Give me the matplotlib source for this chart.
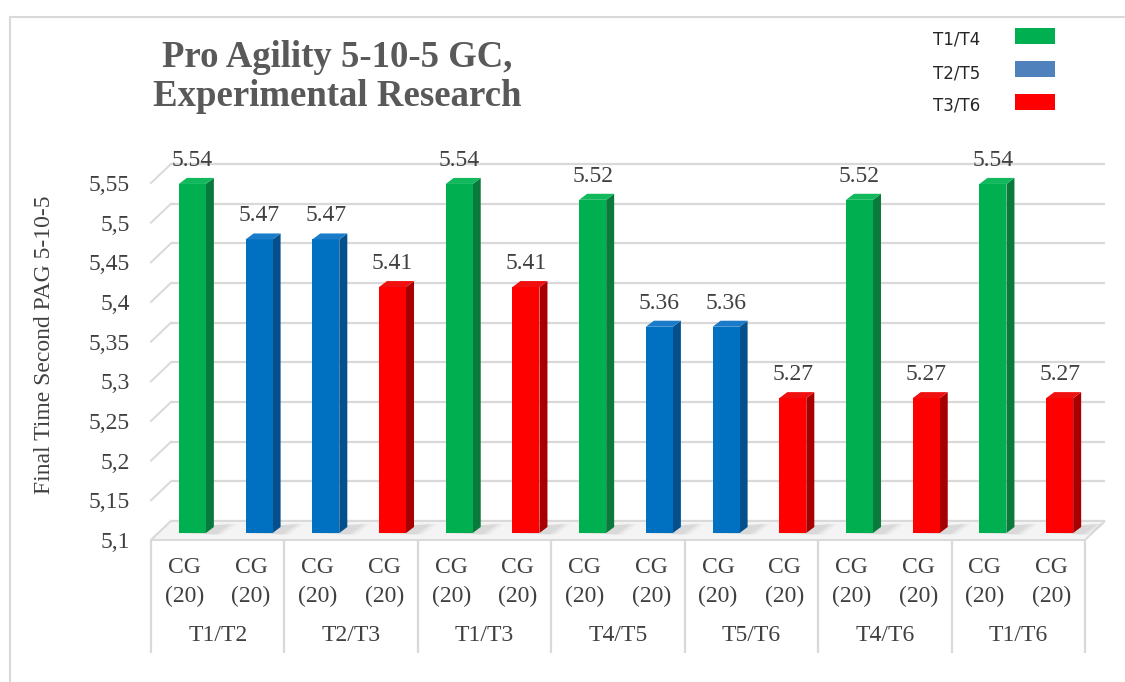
import matplotlib
matplotlib.use("Agg")
import matplotlib.pyplot as plt
import numpy as np
from matplotlib.patches import Polygon, Rectangle
from matplotlib.lines import Line2D
from matplotlib.ticker import FuncFormatter

# ---- data ----
groups = ["T1/T2", "T2/T3", "T1/T3", "T4/T5", "T5/T6", "T4/T6", "T1/T6"]
bar_labels = ["CG\n(20)"] * 14
values = [5.54, 5.47, 5.47, 5.41, 5.54, 5.41, 5.52, 5.36, 5.36, 5.27, 5.52, 5.27, 5.54, 5.27]
series = ["T1/T4", "T2/T5", "T2/T5", "T3/T6", "T1/T4", "T3/T6", "T1/T4", "T2/T5",
          "T2/T5", "T3/T6", "T1/T4", "T3/T6", "T1/T4", "T3/T6"]
legend_labels = ["T1/T4", "T2/T5", "T3/T6"]
y_ticks = [5.1, 5.15, 5.2, 5.25, 5.3, 5.35, 5.4, 5.45, 5.5, 5.55]

# ---- styles ----
front_col = {"T1/T4": "#00B050", "T2/T5": "#0070C0", "T3/T6": "#FF0000"}
side_col = {"T1/T4": "#0A7A3C", "T2/T5": "#03508C", "T3/T6": "#A80000"}
top_col = {"T1/T4": "#12B85C", "T2/T5": "#1A7CC8", "T3/T6": "#F01010"}
legend_col = {"T1/T4": "#00B050", "T2/T5": "#4F81BD", "T3/T6": "#FF0000"}
grid_col = "#D9D9D9"
text_col = "#404040"
serif = ["Liberation Serif", "DejaVu Serif"]
LABEL_SIZE = 17

BASE = 5.1
# depth offsets of the 3D box (x in slot units, y in value units)
WALL_DX, WALL_DY = 0.30, 0.024
BAR_DX, BAR_DY = 0.12, 0.0088
SIDE_DX, SIDE_DY = 0.12, 0.0076
BAR_W = 0.405

W, H = 1125, 682
fig = plt.figure(figsize=(W / 100, H / 100), dpi=100)
ax = fig.add_axes([151 / W, (H - 540) / H, 934 / W, 357 / H])
n = len(values)
ax.set_xlim(0, n)
ax.set_ylim(BASE, 5.55)
for s in ax.spines.values():
    s.set_visible(False)

# back wall gridlines and left-wall stubs
for v in y_ticks:
    ax.plot([WALL_DX, n + WALL_DX], [v + WALL_DY, v + WALL_DY], color=grid_col,
            lw=1.6, clip_on=False, zorder=1, solid_capstyle="butt")
    ax.plot([0, WALL_DX], [v, v + WALL_DY], color=grid_col, lw=1.4,
            clip_on=False, zorder=1)

# floor
floor = Polygon([(0, BASE), (n, BASE), (n + WALL_DX, BASE + WALL_DY), (WALL_DX, BASE + WALL_DY)],
                closed=True, facecolor="#F4F4F4", edgecolor=grid_col, lw=1.4,
                clip_on=False, zorder=2)
ax.add_patch(floor)

# soft shadows of the columns on the floor
x_centers = np.arange(n) + 0.5
for xc in x_centers:
    x0 = xc - BAR_W / 2 + BAR_DX
    for k, a in enumerate([0.10, 0.08, 0.06]):
        sh = Polygon([(x0, BASE + BAR_DY), (x0 + BAR_W + 0.15 + 0.05 * k, BASE + BAR_DY - 0.002),
                      (x0 + BAR_W + SIDE_DX + 0.25 + 0.05 * k, BASE + BAR_DY + SIDE_DY + 0.004),
                      (x0 + SIDE_DX, BASE + BAR_DY + SIDE_DY)],
                     closed=True, facecolor="#808080", edgecolor="none", alpha=a,
                     clip_on=False, zorder=2.5)
        ax.add_patch(sh)

# columns: front face, side face, top face
fronts = ax.bar(x_centers + BAR_DX, [v - BASE for v in values], bottom=BASE + BAR_DY,
                width=BAR_W, color=[front_col[s] for s in series], zorder=4,
                clip_on=False, linewidth=0)
for xc, v, s in zip(x_centers, values, series):
    x0 = xc - BAR_W / 2 + BAR_DX
    x1 = x0 + BAR_W
    y0 = BASE + BAR_DY
    y1 = v + BAR_DY
    side = Polygon([(x1, y0), (x1 + SIDE_DX, y0 + SIDE_DY), (x1 + SIDE_DX, y1 + SIDE_DY), (x1, y1)],
                   closed=True, facecolor=side_col[s], edgecolor="none", zorder=3.9, clip_on=False)
    top = Polygon([(x0, y1), (x1, y1), (x1 + SIDE_DX, y1 + SIDE_DY), (x0 + SIDE_DX, y1 + SIDE_DY)],
                  closed=True, facecolor=top_col[s], edgecolor="none", zorder=4.1, clip_on=False)
    ax.add_patch(side)
    ax.add_patch(top)
    ax.annotate(f"{v:.2f}", xy=(xc + BAR_DX, y1), xytext=(0, 17), textcoords="offset points",
                ha="center", va="center", fontsize=LABEL_SIZE, family=serif, color=text_col,
                zorder=6, annotation_clip=False)

# y axis text
ax.set_yticks(y_ticks)
ax.yaxis.set_major_formatter(FuncFormatter(lambda v, _: f"{round(v, 2):g}".replace(".", ",")))
ax.tick_params(axis="y", length=0, labelsize=LABEL_SIZE, labelcolor=text_col, pad=15)
for lab in ax.get_yticklabels():
    lab.set_family(serif)

# two-level category axis
ax.set_xticks(x_centers)
ax.set_xticklabels([])
ax.tick_params(axis="x", length=0)
xt = ax.get_xaxis_transform()
for xc, lab in zip(x_centers, bar_labels):
    ax.text(xc, -0.118, lab, transform=xt, ha="center", va="center", fontsize=LABEL_SIZE,
            family=serif, color=text_col, linespacing=1.45)
ax.vlines(np.arange(0, n + 1, 2), -0.317, 0, transform=xt, colors=grid_col, lw=1.6,
          clip_on=False, zorder=1)
for g, name in enumerate(groups):
    ax.text(2 * g + 1, -0.267, name, transform=xt, ha="center", va="center",
            fontsize=LABEL_SIZE, family=serif, color=text_col)

fig.text(45 / W, 1 - 345 / H, "Final Time Second PAG 5-10-5", rotation=90,
         ha="center", va="center", fontsize=LABEL_SIZE, family=serif, color=text_col)

# title
fig.text(337 / W, 1 - 77 / H, "Pro Agility 5-10-5 GC,\nExperimental Research",
         ha="center", va="center", fontsize=26.5, fontweight="bold", family=serif,
         color="#595959", linespacing=1.13)

# legend
leg_rows = [(36, 40), (69, 73), (101.5, 105)]
for lab, (sy, ty) in zip(legend_labels, leg_rows):
    fig.text(933 / W, 1 - ty / H, lab, ha="left", va="center", fontsize=12,
             family=["DejaVu Sans"], color="#262626")
    fig.add_artist(Rectangle((1015 / W, 1 - (sy + 8) / H), 40 / W, 16 / H,
                             transform=fig.transFigure, facecolor=legend_col[lab],
                             edgecolor="none"))

# outer frame
fig.add_artist(Line2D([10 / W, 10 / W], [0, 1 - 17 / H], transform=fig.transFigure,
                      color=grid_col, lw=1.5))
fig.add_artist(Line2D([10 / W, 1], [1 - 17 / H, 1 - 17 / H], transform=fig.transFigure,
                      color=grid_col, lw=1.5))

fig.savefig("out.png", dpi=100, facecolor="white")
